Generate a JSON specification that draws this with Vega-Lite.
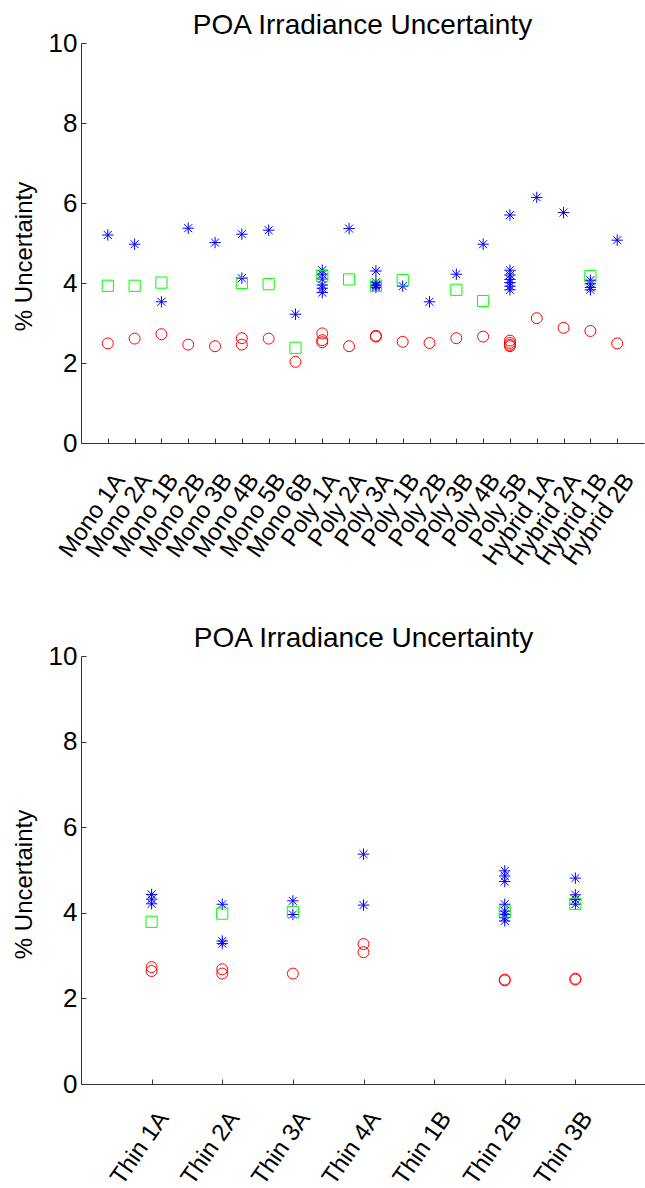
{
  "$schema": "https://vega.github.io/schema/vega-lite/v6.json",
  "padding": {"left": 12, "top": 12, "right": 0, "bottom": 0},
  "config": {
    "font": "Liberation Sans",
    "view": {"stroke": null},
    "axis": {
      "grid": false,
      "domainColor": "#333333",
      "tickColor": "#333333",
      "labelColor": "#000000",
      "titleColor": "#000000",
      "labelFont": "Liberation Sans",
      "titleFont": "Liberation Sans",
      "labelFontSize": 24,
      "titleFontSize": 24,
      "titleFontWeight": "normal",
      "labelOverlap": false,
      "labelBound": false,
      "labelFlush": false
    },
    "title": {"font": "Liberation Sans", "fontSize": 28, "fontWeight": "normal", "color": "#000000", "offset": -10}
  },
  "datasets": {
    "crystalline": [
      {"module": "Mono 1A", "series": "Series 1", "value": 5.2},
      {"module": "Mono 1A", "series": "Series 2", "value": 3.93},
      {"module": "Mono 1A", "series": "Series 3", "value": 2.49},
      {"module": "Mono 2A", "series": "Series 1", "value": 4.97},
      {"module": "Mono 2A", "series": "Series 2", "value": 3.93},
      {"module": "Mono 2A", "series": "Series 3", "value": 2.61},
      {"module": "Mono 1B", "series": "Series 1", "value": 3.53},
      {"module": "Mono 1B", "series": "Series 2", "value": 4.01},
      {"module": "Mono 1B", "series": "Series 3", "value": 2.72},
      {"module": "Mono 2B", "series": "Series 1", "value": 5.37},
      {"module": "Mono 2B", "series": "Series 3", "value": 2.46},
      {"module": "Mono 3B", "series": "Series 1", "value": 5.01},
      {"module": "Mono 3B", "series": "Series 3", "value": 2.42},
      {"module": "Mono 4B", "series": "Series 1", "value": 5.22},
      {"module": "Mono 4B", "series": "Series 1", "value": 4.12},
      {"module": "Mono 4B", "series": "Series 2", "value": 4.0},
      {"module": "Mono 4B", "series": "Series 3", "value": 2.62},
      {"module": "Mono 4B", "series": "Series 3", "value": 2.46},
      {"module": "Mono 5B", "series": "Series 1", "value": 5.32},
      {"module": "Mono 5B", "series": "Series 2", "value": 3.97},
      {"module": "Mono 5B", "series": "Series 3", "value": 2.61},
      {"module": "Mono 6B", "series": "Series 1", "value": 3.22},
      {"module": "Mono 6B", "series": "Series 2", "value": 2.38},
      {"module": "Mono 6B", "series": "Series 3", "value": 2.03},
      {"module": "Poly 1A", "series": "Series 1", "value": 4.32},
      {"module": "Poly 1A", "series": "Series 1", "value": 4.22},
      {"module": "Poly 1A", "series": "Series 1", "value": 4.1},
      {"module": "Poly 1A", "series": "Series 1", "value": 3.95},
      {"module": "Poly 1A", "series": "Series 1", "value": 3.87},
      {"module": "Poly 1A", "series": "Series 1", "value": 3.76},
      {"module": "Poly 1A", "series": "Series 2", "value": 4.17},
      {"module": "Poly 1A", "series": "Series 3", "value": 2.74},
      {"module": "Poly 1A", "series": "Series 3", "value": 2.57},
      {"module": "Poly 1A", "series": "Series 3", "value": 2.52},
      {"module": "Poly 2A", "series": "Series 1", "value": 5.36},
      {"module": "Poly 2A", "series": "Series 2", "value": 4.09},
      {"module": "Poly 2A", "series": "Series 3", "value": 2.42},
      {"module": "Poly 3A", "series": "Series 1", "value": 4.3},
      {"module": "Poly 3A", "series": "Series 1", "value": 4.02},
      {"module": "Poly 3A", "series": "Series 1", "value": 3.95},
      {"module": "Poly 3A", "series": "Series 1", "value": 3.93},
      {"module": "Poly 3A", "series": "Series 1", "value": 3.89},
      {"module": "Poly 3A", "series": "Series 2", "value": 3.93},
      {"module": "Poly 3A", "series": "Series 3", "value": 2.68},
      {"module": "Poly 3A", "series": "Series 3", "value": 2.66},
      {"module": "Poly 1B", "series": "Series 1", "value": 3.92},
      {"module": "Poly 1B", "series": "Series 2", "value": 4.07},
      {"module": "Poly 1B", "series": "Series 3", "value": 2.53},
      {"module": "Poly 2B", "series": "Series 1", "value": 3.53},
      {"module": "Poly 2B", "series": "Series 3", "value": 2.5},
      {"module": "Poly 3B", "series": "Series 1", "value": 4.22},
      {"module": "Poly 3B", "series": "Series 2", "value": 3.83},
      {"module": "Poly 3B", "series": "Series 3", "value": 2.62},
      {"module": "Poly 4B", "series": "Series 1", "value": 4.97},
      {"module": "Poly 4B", "series": "Series 2", "value": 3.55},
      {"module": "Poly 4B", "series": "Series 3", "value": 2.66},
      {"module": "Poly 5B", "series": "Series 1", "value": 5.7},
      {"module": "Poly 5B", "series": "Series 1", "value": 4.32},
      {"module": "Poly 5B", "series": "Series 1", "value": 4.2},
      {"module": "Poly 5B", "series": "Series 1", "value": 4.09},
      {"module": "Poly 5B", "series": "Series 1", "value": 4.01},
      {"module": "Poly 5B", "series": "Series 1", "value": 3.92},
      {"module": "Poly 5B", "series": "Series 1", "value": 3.83},
      {"module": "Poly 5B", "series": "Series 3", "value": 2.56},
      {"module": "Poly 5B", "series": "Series 3", "value": 2.5},
      {"module": "Poly 5B", "series": "Series 3", "value": 2.45},
      {"module": "Poly 5B", "series": "Series 3", "value": 2.42},
      {"module": "Hybrid 1A", "series": "Series 1", "value": 6.14},
      {"module": "Hybrid 1A", "series": "Series 3", "value": 3.12},
      {"module": "Hybrid 2A", "series": "Series 1", "value": 5.76},
      {"module": "Hybrid 2A", "series": "Series 3", "value": 2.88},
      {"module": "Hybrid 1B", "series": "Series 1", "value": 4.07},
      {"module": "Hybrid 1B", "series": "Series 1", "value": 3.98},
      {"module": "Hybrid 1B", "series": "Series 1", "value": 3.89},
      {"module": "Hybrid 1B", "series": "Series 1", "value": 3.83},
      {"module": "Hybrid 1B", "series": "Series 2", "value": 4.17},
      {"module": "Hybrid 1B", "series": "Series 3", "value": 2.8},
      {"module": "Hybrid 2B", "series": "Series 1", "value": 5.07},
      {"module": "Hybrid 2B", "series": "Series 3", "value": 2.49}
    ],
    "thinfilm": [
      {"module": "Thin 1A", "series": "Series 1", "value": 4.43},
      {"module": "Thin 1A", "series": "Series 1", "value": 4.32},
      {"module": "Thin 1A", "series": "Series 1", "value": 4.21},
      {"module": "Thin 1A", "series": "Series 2", "value": 3.79},
      {"module": "Thin 1A", "series": "Series 3", "value": 2.73},
      {"module": "Thin 1A", "series": "Series 3", "value": 2.64},
      {"module": "Thin 2A", "series": "Series 1", "value": 4.2},
      {"module": "Thin 2A", "series": "Series 1", "value": 3.34},
      {"module": "Thin 2A", "series": "Series 1", "value": 3.28},
      {"module": "Thin 2A", "series": "Series 2", "value": 3.98},
      {"module": "Thin 2A", "series": "Series 3", "value": 2.68},
      {"module": "Thin 2A", "series": "Series 3", "value": 2.58},
      {"module": "Thin 3A", "series": "Series 1", "value": 4.28},
      {"module": "Thin 3A", "series": "Series 1", "value": 3.96},
      {"module": "Thin 3A", "series": "Series 2", "value": 4.02},
      {"module": "Thin 3A", "series": "Series 3", "value": 2.58},
      {"module": "Thin 4A", "series": "Series 1", "value": 5.37},
      {"module": "Thin 4A", "series": "Series 1", "value": 4.18},
      {"module": "Thin 4A", "series": "Series 3", "value": 3.27},
      {"module": "Thin 4A", "series": "Series 3", "value": 3.08},
      {"module": "Thin 2B", "series": "Series 1", "value": 4.98},
      {"module": "Thin 2B", "series": "Series 1", "value": 4.86},
      {"module": "Thin 2B", "series": "Series 1", "value": 4.73},
      {"module": "Thin 2B", "series": "Series 1", "value": 4.2},
      {"module": "Thin 2B", "series": "Series 1", "value": 4.04},
      {"module": "Thin 2B", "series": "Series 1", "value": 3.96},
      {"module": "Thin 2B", "series": "Series 1", "value": 3.89},
      {"module": "Thin 2B", "series": "Series 1", "value": 3.81},
      {"module": "Thin 2B", "series": "Series 2", "value": 4.03},
      {"module": "Thin 2B", "series": "Series 3", "value": 2.42},
      {"module": "Thin 2B", "series": "Series 3", "value": 2.44},
      {"module": "Thin 3B", "series": "Series 1", "value": 4.81},
      {"module": "Thin 3B", "series": "Series 1", "value": 4.42},
      {"module": "Thin 3B", "series": "Series 1", "value": 4.31},
      {"module": "Thin 3B", "series": "Series 1", "value": 4.2},
      {"module": "Thin 3B", "series": "Series 2", "value": 4.21},
      {"module": "Thin 3B", "series": "Series 3", "value": 2.44},
      {"module": "Thin 3B", "series": "Series 3", "value": 2.46}
    ]
  },
  "spacing": 55,
  "vconcat": [
    {
      "width": 563,
      "height": 400,
      "title": "POA Irradiance Uncertainty",
      "data": {"name": "crystalline"},
      "layer": [
        {
          "mark": {"type": "point", "filled": false, "strokeWidth": 1, "opacity": 1},
          "encoding": {
            "x": {
              "field": "module", "type": "nominal",
              "scale": {"type": "point", "padding": 1, "domain": ["Mono 1A","Mono 2A","Mono 1B","Mono 2B","Mono 3B","Mono 4B","Mono 5B","Mono 6B","Poly 1A","Poly 2A","Poly 3A","Poly 1B","Poly 2B","Poly 3B","Poly 4B","Poly 5B","Hybrid 1A","Hybrid 2A","Hybrid 1B","Hybrid 2B"]},
              "axis": {"title": null, "ticks": false, "labelAngle": -55, "labelAlign": "right", "labelBaseline": "top", "labelOffset": 2, "labelPadding": 26}
            },
            "y": {
              "field": "value", "type": "quantitative",
              "scale": {"domain": [0, 10], "nice": false},
              "axis": {"title": "% Uncertainty", "ticks": false, "values": [0, 2, 4, 6, 8, 10], "labelFontSize": 26, "labelPadding": 4, "titlePadding": 12, "titleY": 213}
            },
            "shape": {
              "field": "series", "type": "nominal", "legend": null,
              "scale": {"domain": ["Series 1", "Series 2", "Series 3"], "range": ["M0,-1L0,1M-1,0L1,0M-0.7,-0.7L0.7,0.7M-0.7,0.7L0.7,-0.7", "square", "circle"]}
            },
            "stroke": {
              "field": "series", "type": "nominal", "legend": null,
              "scale": {"domain": ["Series 1", "Series 2", "Series 3"], "range": ["#0000ff", "#00ff00", "#ff0000"]}
            },
            "size": {
              "field": "series", "type": "nominal", "legend": null,
              "scale": {"domain": ["Series 1", "Series 2", "Series 3"], "range": [130, 120, 100]}
            }
          }
        },
        {
          "mark": {"type": "point", "opacity": 0},
          "encoding": {
            "x": {
              "field": "module", "type": "nominal",
              "axis": {"orient": "bottom", "offset": -5, "domain": false, "labels": false, "ticks": true, "tickSize": 5, "title": null}
            },
            "y": {
              "field": "value", "type": "quantitative",
              "axis": {"orient": "left", "offset": -5, "domain": false, "labels": false, "ticks": true, "tickSize": 5, "title": null, "values": [0, 2, 4, 6, 8, 10]}
            }
          }
        }
      ],
      "resolve": {"axis": {"x": "independent", "y": "independent"}}
    },
    {
      "width": 565,
      "height": 428,
      "title": "POA Irradiance Uncertainty",
      "data": {"name": "thinfilm"},
      "layer": [
        {
          "mark": {"type": "point", "filled": false, "strokeWidth": 1, "opacity": 1},
          "encoding": {
            "x": {
              "field": "module", "type": "nominal",
              "scale": {"type": "point", "padding": 1, "domain": ["Thin 1A","Thin 2A","Thin 3A","Thin 4A","Thin 1B","Thin 2B","Thin 3B"]},
              "axis": {"title": null, "ticks": false, "labelAngle": -55, "labelAlign": "right", "labelBaseline": "top", "labelOffset": 2, "labelPadding": 23}
            },
            "y": {
              "field": "value", "type": "quantitative",
              "scale": {"domain": [0, 10], "nice": false},
              "axis": {"title": "% Uncertainty", "ticks": false, "values": [0, 2, 4, 6, 8, 10], "labelFontSize": 26, "labelPadding": 4, "titlePadding": 12, "titleY": 228}
            },
            "shape": {
              "field": "series", "type": "nominal", "legend": null,
              "scale": {"domain": ["Series 1", "Series 2", "Series 3"], "range": ["M0,-1L0,1M-1,0L1,0M-0.7,-0.7L0.7,0.7M-0.7,0.7L0.7,-0.7", "square", "circle"]}
            },
            "stroke": {
              "field": "series", "type": "nominal", "legend": null,
              "scale": {"domain": ["Series 1", "Series 2", "Series 3"], "range": ["#0000ff", "#00ff00", "#ff0000"]}
            },
            "size": {
              "field": "series", "type": "nominal", "legend": null,
              "scale": {"domain": ["Series 1", "Series 2", "Series 3"], "range": [130, 120, 100]}
            }
          }
        },
        {
          "mark": {"type": "point", "opacity": 0},
          "encoding": {
            "x": {
              "field": "module", "type": "nominal",
              "axis": {"orient": "bottom", "offset": -5, "domain": false, "labels": false, "ticks": true, "tickSize": 5, "title": null}
            },
            "y": {
              "field": "value", "type": "quantitative",
              "axis": {"orient": "left", "offset": -5, "domain": false, "labels": false, "ticks": true, "tickSize": 5, "title": null, "values": [0, 2, 4, 6, 8, 10]}
            }
          }
        }
      ],
      "resolve": {"axis": {"x": "independent", "y": "independent"}}
    }
  ]
}
